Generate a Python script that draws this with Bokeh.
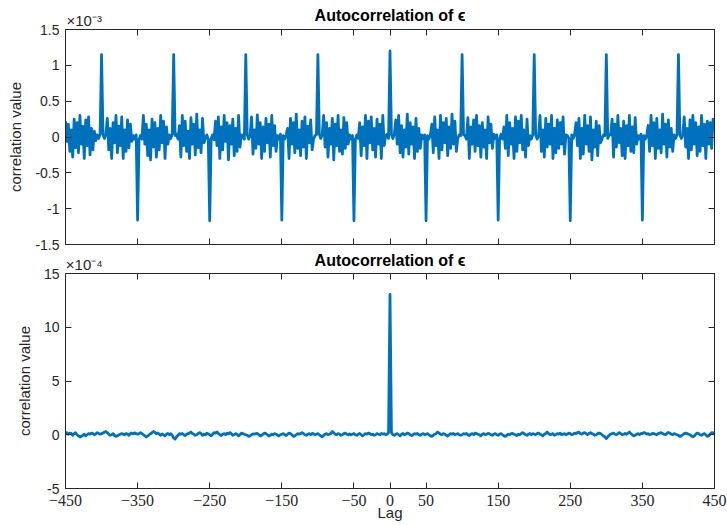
from bokeh.plotting import figure
from bokeh.models import Range1d, FixedTicker, LinearAxis
from bokeh.layouts import column
from bokeh.embed import file_html
from bokeh.resources import INLINE

# ---------------- data ----------------
lags = list(range(-450, 451, 2))

# top panel: autocorrelation values in units of 1e-3 (one row = 50 lags)
top_rows = [
    [0.22, -0.06, 0.18, -0.2, 0.1, -0.28, 0.25, -0.15, 0.2, -0.22, 0.3, -0.1, 0.15, -0.3, 0.24, -0.12, 0.28, -0.25, 0.12, -0.18, 0.08, -0.05, 0.03, -0.02, 0.04],
    [1.15, 0.03, -0.02, 0.04, 0.26, -0.18, 0.12, -0.3, 0.2, -0.08, 0.3, -0.22, 0.15, -0.12, 0.28, -0.3, 0.1, -0.2, 0.24, -0.15, 0.18, -0.06, 0.02, -0.03, 0.03],
    [-1.16, -0.03, 0.02, -0.03, 0.3, -0.1, 0.18, -0.26, 0.1, -0.32, 0.25, -0.14, 0.2, -0.28, 0.12, -0.18, 0.3, -0.08, 0.22, -0.3, 0.14, -0.1, 0.03, -0.02, 0.04],
    [1.15, 0.02, 0.04, -0.03, 0.16, -0.28, 0.3, -0.12, 0.22, -0.2, 0.08, -0.3, 0.27, -0.1, 0.18, -0.25, 0.32, -0.15, 0.1, -0.22, 0.26, -0.08, -0.02, 0.03, -0.03],
    [-1.17, -0.02, 0.03, -0.04, 0.22, -0.12, 0.28, -0.3, 0.14, -0.18, 0.3, -0.06, 0.2, -0.32, 0.16, -0.1, 0.25, -0.26, 0.12, -0.2, 0.3, -0.14, 0.03, 0.02, -0.03],
    [1.15, 0.03, -0.03, 0.02, 0.28, -0.24, 0.1, -0.16, 0.31, -0.1, 0.2, -0.3, 0.14, -0.2, 0.26, -0.08, 0.18, -0.28, 0.3, -0.12, 0.16, -0.2, 0.02, -0.03, 0.04],
    [-1.16, 0.02, -0.03, 0.03, 0.12, -0.3, 0.26, -0.1, 0.2, -0.22, 0.32, -0.16, 0.1, -0.26, 0.22, -0.14, 0.28, -0.3, 0.15, -0.08, 0.24, -0.18, -0.03, 0.02, 0.03],
    [1.15, 0.04, -0.02, 0.03, 0.3, -0.14, 0.2, -0.28, 0.12, -0.1, 0.26, -0.32, 0.18, -0.12, 0.3, -0.2, 0.1, -0.24, 0.27, -0.16, 0.2, -0.1, 0.03, -0.03, 0.02],
    [-1.17, -0.03, 0.03, -0.02, 0.2, -0.26, 0.14, -0.12, 0.3, -0.3, 0.22, -0.08, 0.28, -0.18, 0.12, -0.28, 0.25, -0.1, 0.18, -0.3, 0.3, -0.12, 0.02, 0.04, -0.02],
    [1.2, 0.03, -0.02, 0.04, 0.24, -0.1, 0.3, -0.22, 0.16, -0.28, 0.1, -0.14, 0.32, -0.24, 0.2, -0.1, 0.14, -0.3, 0.26, -0.2, 0.12, -0.16, 0.03, -0.02, 0.03],
    [-1.17, 0.02, -0.03, 0.03, 0.18, -0.22, 0.28, -0.12, 0.1, -0.3, 0.3, -0.18, 0.2, -0.08, 0.26, -0.26, 0.14, -0.16, 0.32, -0.1, 0.22, -0.2, -0.02, 0.03, 0.02],
    [1.15, 0.03, 0.02, -0.03, 0.27, -0.3, 0.14, -0.1, 0.24, -0.2, 0.3, -0.12, 0.16, -0.28, 0.2, -0.14, 0.1, -0.3, 0.28, -0.08, 0.18, -0.16, 0.04, -0.02, 0.03],
    [-1.16, -0.02, 0.04, -0.03, 0.14, -0.16, 0.3, -0.26, 0.2, -0.1, 0.12, -0.3, 0.28, -0.2, 0.22, -0.08, 0.3, -0.18, 0.1, -0.28, 0.25, -0.12, 0.02, -0.03, 0.03],
    [1.15, 0.03, -0.03, 0.02, 0.3, -0.2, 0.1, -0.28, 0.26, -0.14, 0.18, -0.1, 0.3, -0.3, 0.12, -0.22, 0.24, -0.16, 0.2, -0.1, 0.28, -0.24, 0.03, 0.02, -0.02],
    [-1.17, 0.03, -0.02, 0.04, 0.2, -0.12, 0.26, -0.3, 0.12, -0.24, 0.3, -0.1, 0.16, -0.2, 0.28, -0.32, 0.1, -0.14, 0.22, -0.26, 0.16, -0.08, -0.03, 0.03, 0.02],
    [1.15, -0.02, 0.03, 0.03, 0.25, -0.28, 0.18, -0.14, 0.3, -0.08, 0.12, -0.26, 0.22, -0.3, 0.16, -0.12, 0.3, -0.2, 0.14, -0.22, 0.27, -0.1, 0.02, -0.03, 0.04],
    [-1.16, 0.02, -0.03, 0.02, 0.16, -0.2, 0.3, -0.12, 0.2, -0.3, 0.26, -0.16, 0.1, -0.22, 0.32, -0.1, 0.18, -0.28, 0.24, -0.14, 0.12, -0.2, 0.03, -0.02, 0.03],
    [1.15, 0.03, -0.02, 0.03, 0.28, -0.14, 0.12, -0.3, 0.24, -0.18, 0.3, -0.1, 0.2, -0.26, 0.14, -0.2, 0.3, -0.12, 0.18, -0.3, 0.22, -0.1, 0.2, -0.16, 0.25],
    [0.15],
]

# bottom panel: autocorrelation values in units of 1e-4 (one row = 50 lags)
bottom_rows = [
    [0.1, 0.2, 0.05, 0.15, 0.12, -0.05, 0.1, 0.18, 0.0, -0.1, -0.2, -0.15, -0.05, 0.05, -0.1, 0.0, 0.1, 0.05, 0.15, 0.1, 0.0, 0.08, 0.2, 0.12, 0.05],
    [0.1, 0.15, 0.25, 0.3, 0.18, 0.05, -0.05, 0.0, 0.1, -0.08, -0.15, -0.1, 0.0, 0.05, 0.1, 0.06, 0.0, 0.12, 0.05, -0.05, 0.1, 0.15, 0.08, 0.18, 0.1],
    [0.05, 0.12, 0.2, 0.1, 0.0, -0.1, -0.2, -0.12, 0.0, 0.1, 0.18, 0.3, 0.22, 0.1, 0.15, 0.05, -0.05, 0.08, 0.0, -0.1, 0.05, 0.12, 0.0, 0.1, -0.05],
    [-0.3, -0.4, -0.2, -0.05, 0.1, 0.05, 0.12, 0.0, -0.08, 0.05, 0.1, 0.15, 0.25, 0.1, 0.05, -0.05, 0.0, 0.12, 0.2, 0.1, -0.05, 0.05, 0.0, 0.15, 0.08],
    [0.0, -0.1, 0.05, 0.2, 0.15, 0.25, 0.12, 0.0, -0.08, 0.05, 0.1, 0.0, 0.15, 0.08, 0.2, 0.1, -0.05, 0.0, 0.1, 0.05, -0.1, 0.0, 0.15, 0.1, 0.05],
    [0.0, -0.05, -0.15, -0.1, 0.0, 0.08, 0.05, 0.1, 0.12, 0.0, -0.1, -0.05, 0.05, 0.15, 0.1, 0.0, -0.12, -0.05, 0.05, 0.0, 0.1, 0.05, -0.05, -0.1, 0.0],
    [0.05, 0.1, 0.0, -0.08, 0.05, 0.15, 0.1, 0.0, -0.15, -0.1, 0.0, 0.1, 0.05, 0.12, 0.2, 0.1, 0.0, -0.05, 0.05, 0.1, 0.0, 0.12, 0.08, 0.0, 0.05],
    [0.1, 0.0, -0.1, -0.2, -0.05, 0.05, 0.1, 0.0, 0.05, 0.12, 0.3, 0.18, 0.05, 0.0, 0.1, 0.05, -0.05, 0.0, 0.1, 0.15, 0.05, 0.0, 0.08, 0.0, 0.05],
    [0.1, 0.0, -0.05, 0.05, 0.12, 0.0, -0.1, 0.0, 0.1, 0.05, 0.15, 0.1, 0.0, 0.05, -0.05, 0.0, 0.1, 0.05, 0.0, 0.12, 0.05, 0.1, 0.0, 0.05, 0.2],
    [13.05, 0.2, 0.0, -0.05, 0.05, 0.1, 0.0, -0.1, 0.05, 0.12, 0.0, 0.05, 0.15, 0.1, 0.0, -0.08, 0.0, 0.1, 0.05, 0.12, 0.0, -0.05, 0.05, 0.1, 0.0],
    [0.05, 0.1, 0.0, -0.1, -0.15, -0.05, 0.05, 0.1, 0.25, 0.15, 0.05, 0.0, 0.1, 0.05, -0.05, -0.12, 0.0, 0.1, 0.05, 0.12, 0.0, 0.05, 0.1, 0.0, -0.05],
    [0.0, 0.1, 0.05, 0.12, 0.0, -0.08, 0.05, 0.1, 0.0, 0.15, 0.1, 0.05, 0.0, -0.1, 0.05, 0.1, 0.0, 0.05, 0.12, 0.08, 0.0, -0.05, 0.05, 0.1, 0.0],
    [-0.05, 0.05, 0.1, 0.0, -0.1, -0.15, -0.05, 0.05, 0.0, 0.1, 0.12, 0.05, 0.0, -0.08, 0.05, 0.0, 0.1, 0.2, 0.1, 0.0, -0.05, 0.05, 0.12, 0.0, 0.1],
    [0.05, 0.0, 0.1, 0.15, 0.05, 0.0, -0.1, 0.05, 0.12, 0.25, 0.1, 0.0, 0.05, 0.1, -0.05, 0.0, 0.1, 0.05, 0.15, 0.0, 0.05, 0.1, 0.0, 0.08, 0.15],
    [0.1, 0.0, 0.05, 0.15, 0.1, 0.2, 0.25, 0.1, 0.05, 0.15, 0.2, 0.1, 0.0, 0.12, 0.2, 0.1, 0.05, -0.05, 0.0, 0.1, 0.15, 0.1, 0.0, -0.1, -0.2],
    [-0.35, -0.2, -0.05, 0.05, 0.1, 0.15, 0.05, 0.0, 0.1, 0.2, 0.1, 0.0, 0.05, 0.12, 0.05, 0.15, 0.25, 0.1, 0.0, -0.1, -0.05, 0.05, 0.1, 0.0, 0.12],
    [0.1, 0.2, 0.15, 0.05, 0.1, 0.0, 0.05, 0.12, 0.1, 0.05, 0.0, 0.1, 0.15, 0.2, 0.1, 0.05, 0.0, 0.12, 0.22, 0.15, 0.05, 0.0, 0.1, 0.05, 0.0],
    [-0.05, -0.15, -0.1, 0.0, 0.1, 0.15, 0.1, 0.05, 0.0, -0.1, -0.2, -0.1, 0.05, 0.15, 0.1, 0.0, -0.05, 0.05, 0.1, 0.0, -0.15, -0.1, 0.05, 0.2, 0.15],
    [0.2],
]

top_vals = [v for row in top_rows for v in row]
bottom_vals = [v for row in bottom_rows for v in row]
assert len(top_vals) == len(lags), len(top_vals)
assert len(bottom_vals) == len(lags), len(bottom_vals)

x_ticks = [-450, -350, -250, -150, -50, 0, 50, 150, 250, 350, 450]
x_tick_labels = ["\u2212450", "\u2212350", "\u2212250", "\u2212150", "\u221250", "0", "50", "150", "250", "350", "450"]
top_y_ticks = [-1.5, -1, -0.5, 0, 0.5, 1, 1.5]
top_y_labels = ["-1.5", "-1", "-0.5", "0", "0.5", "1", "1.5"]
bot_y_ticks = [-5, 0, 5, 10, 15]
bot_y_labels = ["-5", "0", "5", "10", "15"]

title_text = "Autocorrelation of \u03f5"
top_exponent = "\u00d710\u207b\u00b3"
bottom_exponent = "\u00d710\u207b\u2074"
ylabel = "correlation value"
xlabel = "Lag"

# ---------------- style ----------------
LINE = "#0072BD"
AX = "#262626"
SANS = "Liberation Sans"
SERIF = "Liberation Serif"
EXP_ANCHOR = -424  # centre of the exponent text, so that it starts at the frame's left edge


def style_axis(ax, ticks, labels=None, show_labels=True, label_font=SANS, size="14px", standoff=6):
    ax.ticker = FixedTicker(ticks=ticks)
    ax.major_tick_in = 6
    ax.major_tick_out = 0
    ax.minor_tick_line_color = None
    ax.axis_line_color = AX
    ax.major_tick_line_color = AX
    if show_labels:
        ax.major_label_text_font = label_font
        ax.major_label_text_font_size = size
        ax.major_label_text_color = AX
        ax.major_label_standoff = standoff
        if labels is not None:
            ax.major_label_overrides = {t: l for t, l in zip(ticks, labels)}
    else:
        ax.major_label_text_font_size = "0px"
        ax.major_label_standoff = 0


def make_fig(height, top, bottom, yr, yticks, ylabels, show_x, exponent, title_standoff):
    p = figure(width=727, height=height, x_range=Range1d(-450, 450), y_range=Range1d(*yr),
               output_backend="svg", toolbar_location=None,
               min_border_left=65, min_border_right=13, min_border_top=top, min_border_bottom=bottom)
    p.title_location = None
    p.xgrid.visible = False
    p.ygrid.visible = False
    p.outline_line_color = AX
    p.outline_line_width = 1
    p.background_fill_color = "white"
    xb = p.xaxis[0]
    yl = p.yaxis[0]
    style_axis(xb, x_ticks, x_tick_labels, show_labels=show_x, label_font=SERIF, size="16px", standoff=6)
    style_axis(yl, yticks, ylabels, show_labels=True, size="14px", standoff=6)
    yl.axis_label = ylabel
    yl.axis_label_text_font = SANS
    yl.axis_label_text_font_style = "normal"
    yl.axis_label_text_font_size = "15px"
    yl.axis_label_text_color = AX
    yl.axis_label_standoff = 8
    ra = LinearAxis()
    style_axis(ra, yticks, show_labels=False)
    p.add_layout(ra, "right")
    ta = LinearAxis()
    style_axis(ta, x_ticks, show_labels=False)
    p.add_layout(ta, "above")
    # exponent (x10^-n) at the frame's top-left corner, with the panel title as axis label
    ea = LinearAxis(ticker=FixedTicker(ticks=[EXP_ANCHOR]), major_label_overrides={EXP_ANCHOR: exponent})
    ea.axis_line_color = None
    ea.major_tick_line_color = None
    ea.minor_tick_line_color = None
    ea.major_tick_in = 0
    ea.major_tick_out = 0
    ea.major_label_standoff = 1
    ea.major_label_text_baseline = "alphabetic"
    ea.major_label_text_font = SANS
    ea.major_label_text_font_size = "15px"
    ea.major_label_text_color = AX
    ea.axis_label = title_text
    ea.axis_label_text_font = SANS
    ea.axis_label_text_font_style = "bold"
    ea.axis_label_text_font_size = "16px"
    ea.axis_label_text_color = "black"
    ea.axis_label_standoff = title_standoff
    p.add_layout(ea, "above")
    return p, xb


# top panel (canvas 0..270, frame 29..244)
p1, xb1 = make_fig(270, 29, 26, (-1.5, 1.5), top_y_ticks, top_y_labels, False, top_exponent, -15)
p1.border_fill_color = "white"
p1.line(lags, top_vals, line_color=LINE, line_width=2.8, line_join="round")

# bottom panel (canvas 243..525, frame 273..488), overlapping the top canvas by 27px
p2, xb2 = make_fig(282, 30, 37, (-5, 15), bot_y_ticks, bot_y_labels, True, bottom_exponent, -16)
p2.border_fill_color = None
p2.margin = (-27, 0, 0, 0)
p2.line(lags, bottom_vals, line_color=LINE, line_width=2.8, line_join="round")
xb2.axis_label = xlabel
xb2.axis_label_text_font = SANS
xb2.axis_label_text_font_style = "normal"
xb2.axis_label_text_font_size = "15px"
xb2.axis_label_text_color = AX
xb2.axis_label_standoff = -5

layout = column(p1, p2)
open("out.html", "w").write(file_html(layout, INLINE))
